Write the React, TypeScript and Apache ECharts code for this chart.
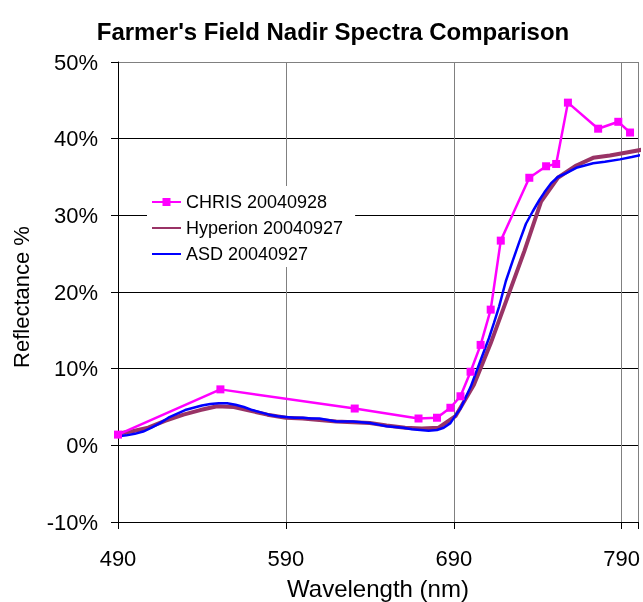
import { useEffect, useRef } from 'react';
import * as echarts from 'echarts';

// Wavelength axis starts at 490 nm; values are plotted as an offset from it
const X_START = 490;
const X_SPAN = 310;

// CHRIS 20040928 (nm / reflectance %)
const chrisWavelength = [490, 551, 631, 669, 680, 688, 694, 700, 706, 712, 718, 735, 745, 751, 758, 776, 788, 795];
const chrisReflectance = [1.4, 7.3, 4.8, 3.5, 3.6, 4.9, 6.4, 9.6, 13.1, 17.7, 26.7, 34.9, 36.4, 36.7, 44.7, 41.3, 42.2, 40.8];

// Hyperion 20040927
const hyperionWavelength = [488, 498, 508, 518, 529, 539, 549, 559, 569, 579, 590, 600, 610, 620, 630, 640, 650, 661, 671, 681, 691, 702, 712, 722, 732, 742, 752, 763, 773, 783, 793, 803];
const hyperionReflectance = [1.5, 1.8, 2.3, 3.2, 4.0, 4.6, 5.1, 5.0, 4.5, 4.0, 3.6, 3.5, 3.3, 3.1, 3.0, 2.9, 2.6, 2.3, 2.2, 2.3, 3.8, 7.9, 13.3, 19.3, 25.3, 31.8, 34.9, 36.5, 37.5, 37.8, 38.2, 38.6];

// ASD 20040927
const asdWavelength = [490, 495, 500, 505, 510, 515, 520, 525, 530, 535, 540, 545, 550, 555, 560, 565, 570, 575, 580, 585, 590, 595, 600, 605, 610, 615, 620, 625, 630, 635, 640, 645, 650, 655, 660, 665, 670, 675, 680, 684, 688, 692, 694, 700, 706, 711, 714, 717, 721, 725, 729, 733, 737, 741, 744, 748, 752, 757, 763, 768, 773, 780, 789, 796, 802];
const asdReflectance = [1.2, 1.3, 1.5, 1.8, 2.3, 2.9, 3.6, 4.1, 4.6, 4.9, 5.2, 5.4, 5.5, 5.5, 5.3, 5.0, 4.6, 4.3, 4.0, 3.8, 3.7, 3.6, 3.6, 3.5, 3.5, 3.3, 3.1, 3.1, 3.1, 3.0, 2.9, 2.7, 2.5, 2.4, 2.3, 2.1, 2.0, 1.9, 2.0, 2.3, 2.9, 4.2, 4.8, 7.6, 11.1, 14.0, 16.0, 18.1, 21.4, 24.0, 26.5, 28.9, 30.5, 32.0, 33.0, 34.2, 35.0, 35.5, 36.2, 36.5, 36.8, 37.0, 37.3, 37.6, 37.9];

const FONT = "'Liberation Sans', Arial, sans-serif";

const toPoints = (wl: number[], val: number[]) => wl.map((w, i) => [w - X_START, val[i]]);

export default function App() {
  const ref = useRef<HTMLDivElement>(null);

  useEffect(() => {
    if (!ref.current) return;
    const chart = echarts.init(ref.current, undefined, { renderer: 'svg' });
    chart.setOption({
      animation: false,
      textStyle: { fontFamily: FONT, color: '#000' },
      grid: { left: 118, top: 62, right: 4, bottom: 80, containLabel: false },
      xAxis: {
        type: 'value',
        min: 0,
        max: X_SPAN,
        interval: 100,
        axisLine: { show: true, onZero: false, lineStyle: { color: '#000', width: 1 } },
        axisTick: { show: true, length: 7, lineStyle: { color: '#000' } },
        axisLabel: {
          margin: 25,
          fontSize: 22,
          color: '#000',
          fontFamily: FONT,
          formatter: (v: number) => (v > 300 ? '' : String(v + X_START)),
        },
        splitLine: { show: true, lineStyle: { color: '#808080', width: 1 } },
      },
      yAxis: {
        type: 'value',
        min: -10,
        max: 50,
        interval: 10,
        axisLine: { show: true, lineStyle: { color: '#000', width: 1 } },
        axisTick: { show: true, length: 7, lineStyle: { color: '#000' } },
        axisLabel: { margin: 20, fontSize: 22, color: '#000', fontFamily: FONT, formatter: '{value}%' },
        splitLine: {
          show: true,
          lineStyle: { color: ['#000', '#000', '#000', '#000', '#000', '#000', '#808080'], width: 1 },
        },
      },
      legend: {
        orient: 'vertical',
        left: 147,
        top: 186,
        padding: [7, 12, 4, 4],
        itemGap: 8,
        itemWidth: 29,
        itemHeight: 10,
        backgroundColor: '#fff',
        textStyle: { fontSize: 18, color: '#000', fontFamily: FONT },
        data: [
          { name: 'CHRIS 20040928' },
          { name: 'Hyperion 20040927', itemStyle: { opacity: 0 } },
          { name: 'ASD 20040927', itemStyle: { opacity: 0 } },
        ],
      },
      graphic: [
        {
          type: 'text',
          x: 333,
          y: 31,
          style: {
            text: "Farmer's Field Nadir Spectra Comparison",
            font: `bold 24px ${FONT}`,
            fill: '#000',
            align: 'center',
            verticalAlign: 'middle',
          },
        },
        {
          type: 'text',
          x: 21,
          y: 297,
          rotation: Math.PI / 2,
          style: {
            text: 'Reflectance %',
            font: `22px ${FONT}`,
            fill: '#000',
            align: 'center',
            verticalAlign: 'middle',
          },
        },
        {
          type: 'text',
          x: 378,
          y: 588,
          style: {
            text: 'Wavelength (nm)',
            font: `24px ${FONT}`,
            fill: '#000',
            align: 'center',
            verticalAlign: 'middle',
          },
        },
      ],
      series: [
        {
          name: 'Hyperion 20040927',
          type: 'line',
          data: toPoints(hyperionWavelength, hyperionReflectance),
          symbol: 'none',
          lineStyle: { width: 4, color: '#993366' },
          itemStyle: { color: '#993366' },
          z: 2,
        },
        {
          name: 'ASD 20040927',
          type: 'line',
          data: toPoints(asdWavelength, asdReflectance),
          symbol: 'none',
          lineStyle: { width: 2.5, color: '#0000FF' },
          itemStyle: { color: '#0000FF' },
          z: 3,
        },
        {
          name: 'CHRIS 20040928',
          type: 'line',
          data: toPoints(chrisWavelength, chrisReflectance),
          symbol: 'rect',
          symbolSize: 8,
          lineStyle: { width: 2.5, color: '#FF00FF' },
          itemStyle: { color: '#FF00FF' },
          z: 4,
        },
      ],
    });
    return () => chart.dispose();
  }, []);

  return <div ref={ref} style={{ position: 'fixed', left: 0, top: 0, width: 643, height: 602 }} />;
}
